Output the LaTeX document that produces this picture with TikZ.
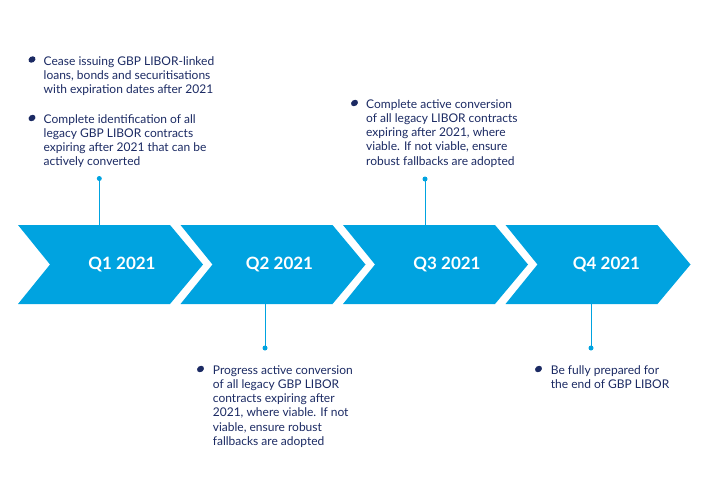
\documentclass[tikz,border=0pt]{standalone}
\usepackage{fontspec}
\usepackage{tikz}
\setsansfont{Lato}
\definecolor{chevc}{HTML}{00A3E0}
\definecolor{inkc}{HTML}{1B2A63}
\tikzset{
  quarter/.style={font=\sffamily\bfseries\fontsize{17}{19}\selectfont, text=white, inner sep=0pt},
  note/.style={font=\sffamily\fontsize{12}{14.2}\selectfont, text=inkc, align=left, anchor=base west, inner sep=0pt},
  stem/.style={chevc, line width=0.9pt},
}
\newcommand{\notebullet}[1]{\fill[inkc, rotate around={35:#1}] #1 ellipse [x radius=3.7pt, y radius=3pt];}

\begin{document}
\begin{tikzpicture}[x=1pt, y=-1pt]
    \useasboundingbox (0,0) rectangle (701,501);
    % chevrons
    \foreach \x in {18,180.5,343,505.5}
      \fill[chevc] (\x,225) -- ++(152,0) -- ++(33,39.5) -- ++(-33,39.5) -- ++(-152,0) -- ++(32,-39.5) -- cycle;
    \coordinate (top) at (0,225);
    \coordinate (bot) at (0,304);
    \node[quarter] (q1) at (122,264) {Q1 2021};
    \node[quarter] (q2) at (279.5,264) {Q2 2021};
    \node[quarter] (q3) at (447,264) {Q3 2021};
    \node[quarter] (q4) at (606.5,264) {Q4 2021};
    % stems
    \coordinate (d1) at (99.3,178.5);
    \coordinate (d2) at (265,348);
    \coordinate (d3) at (425,179);
    \coordinate (d4) at (591,348);
    \draw[stem] (d1) -- (d1 |- top);
    \draw[stem] (d3) -- (d3 |- top);
    \draw[stem] (d2) -- (d2 |- bot);
    \draw[stem] (d4) -- (d4 |- bot);
    \foreach \d in {d1,d2,d3,d4}
      \fill[chevc] (\d) circle (2.5pt);
    % notes (placed at the baseline of their last line)
    \node[note] (n1a) at (43.5,93.4) {Cease issuing GBP LIBOR-linked\\loans, bonds and securitisations\\with expiration dates after 2021};
    \node[note] (n1b) at (43.5,165.9) {Complete identification of all\\legacy GBP LIBOR contracts\\expiring after 2021 that can be\\actively converted};
    \node[note] (n3) at (366,165.1) {Complete active conversion\\of all legacy LIBOR contracts\\expiring after 2021, where\\viable. If not viable, ensure\\robust fallbacks are adopted};
    \node[note] (n2) at (212.7,445.3) {Progress active conversion\\of all legacy GBP LIBOR\\contracts expiring after\\2021, where viable. If not\\viable, ensure robust\\fallbacks are adopted};
    \node[note] (n4) at (550.7,388.2) {Be fully prepared for\\the end of GBP LIBOR};
    \notebullet{(32,59.5)}
    \notebullet{(32,118)}
    \notebullet{(354.5,103)}
    \notebullet{(200.5,369)}
    \notebullet{(538.5,369)}
  \end{tikzpicture}
\end{document}
